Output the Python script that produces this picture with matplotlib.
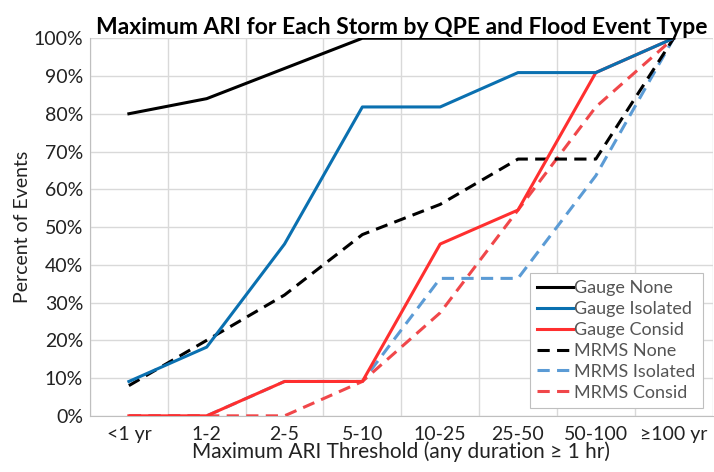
import matplotlib.pyplot as plt
import numpy as np

plt.rcParams['font.family'] = ['Lato', 'DejaVu Sans']

categories = ['<1 yr', '1-2', '2-5', '5-10', '10-25', '25-50', '50-100', '≥100 yr']

gauge_none = [80, 84, 92, 100, 100, 100, 100, 100]
gauge_isolated = [9.1, 18.2, 45.5, 81.8, 81.8, 90.9, 90.9, 100]
gauge_consid = [0, 0, 9.1, 9.1, 45.5, 54.5, 90.9, 100]
mrms_none = [8, 20, 32, 48, 56, 68, 68, 100]
mrms_isolated = [0, 0, 9.1, 9.1, 36.4, 36.4, 63.6, 100]
mrms_consid = [0, 0, 0, 9.1, 27.3, 54.5, 81.8, 100]

fig = plt.figure(figsize=(7.14, 4.72), dpi=100)
ax = fig.add_axes([0.126, 0.119, 0.872, 0.800])

x = np.arange(len(categories))
dash = (0, (4, 2.4))
lw = 2.2

# draw order so the gauge lines sit on top like the original
ax.plot(x, mrms_isolated, color='#5B9BD5', lw=lw, linestyle=dash, label='MRMS Isolated', zorder=3)
ax.plot(x, mrms_consid, color='#F0474A', lw=lw, linestyle=dash, label='MRMS Consid', zorder=3)
ax.plot(x, mrms_none, color='black', lw=lw, linestyle=dash, label='MRMS None', zorder=3)
ax.plot(x, gauge_consid, color='#FF2F2F', lw=lw, label='Gauge Consid', zorder=4)
ax.plot(x, gauge_isolated, color='#0A70B0', lw=lw, label='Gauge Isolated', zorder=4)
ax.plot(x, gauge_none, color='black', lw=lw, label='Gauge None', zorder=4)

ax.set_xlim(-0.5, len(categories) - 0.5)
ax.set_ylim(0, 100)
ax.set_xticks(x)
ax.set_xticklabels(categories, fontsize=14, color='#222222')
ax.set_xticks(np.arange(-0.5, len(categories)), minor=True)
ax.set_yticks(np.arange(0, 101, 10))
ax.set_yticklabels([f'{v}%' for v in range(0, 101, 10)], fontsize=14, color='#222222')
ax.tick_params(axis='both', which='both', length=0)
ax.tick_params(axis='x', pad=7)
ax.tick_params(axis='y', pad=5)

ax.grid(axis='y', color='#D9D9D9', lw=1.0)
ax.grid(axis='x', which='minor', color='#D9D9D9', lw=1.0)
ax.set_axisbelow(True)
for side in ['top', 'right']:
    ax.spines[side].set_visible(False)
for side in ['left', 'bottom']:
    ax.spines[side].set_color('#BFBFBF')

ax.set_title('Maximum ARI for Each Storm by QPE and Flood Event Type',
             fontsize=16.5, fontweight='bold', pad=2, x=0.5)
ax.set_xlabel('Maximum ARI Threshold (any duration ≥ 1 hr)', fontsize=15,
              color='#222222', labelpad=-1)
ax.set_ylabel('Percent of Events', fontsize=14, color='#222222', labelpad=2)

handles, labels = ax.get_legend_handles_labels()
order = ['Gauge None', 'Gauge Isolated', 'Gauge Consid', 'MRMS None', 'MRMS Isolated', 'MRMS Consid']
hl = dict(zip(labels, handles))
leg = ax.legend([hl[k] for k in order], order, loc='lower right', fontsize=13,
                handlelength=2.0, handletextpad=0.05, labelspacing=0.27,
                borderpad=0.4, borderaxespad=0, fancybox=False, framealpha=1,
                edgecolor='#BFBFBF', bbox_to_anchor=(0.984, 0.021))
for t in leg.get_texts():
    t.set_color('#555555')
leg.get_frame().set_linewidth(0.8)

fig.savefig('out.png', dpi=100)
